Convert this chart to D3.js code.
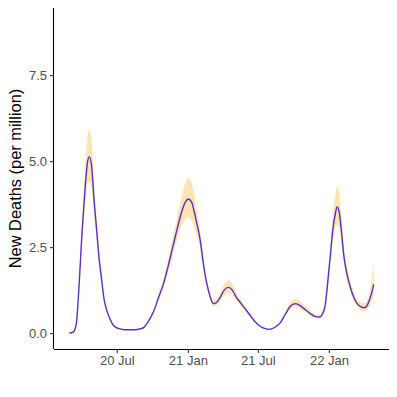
<!DOCTYPE html>
<html>
<head>
<meta charset="utf-8">
<script src="https://cdn.jsdelivr.net/npm/d3@7"></script>
<style>
  body { margin: 0; background: #fff; }
  text { font-family: "Liberation Sans", Arial, sans-serif; }
</style>
</head>
<body>
<div id="chart"></div>
<script>
// values
var dates = ["2020-02-29","2020-03-10","2020-03-18","2020-03-25","2020-04-02","2020-04-10","2020-04-16","2020-04-21","2020-04-27","2020-05-03",
  "2020-05-10","2020-05-16","2020-05-23","2020-05-29","2020-06-05","2020-06-14","2020-06-22","2020-07-07","2020-07-22","2020-08-17",
  "2020-09-07","2020-09-20","2020-10-04","2020-10-16","2020-10-30","2020-11-11","2020-11-25","2020-12-07","2020-12-16","2020-12-25",
  "2021-01-02","2021-01-11","2021-01-17","2021-01-24","2021-02-02","2021-02-10","2021-02-17","2021-02-23","2021-03-02","2021-03-08",
  "2021-03-15","2021-03-26","2021-04-05","2021-04-16","2021-04-26","2021-05-06","2021-05-16","2021-05-25","2021-06-11","2021-06-24",
  "2021-07-07","2021-07-20","2021-07-29","2021-08-07","2021-08-18","2021-08-28","2021-09-10","2021-09-23","2021-10-06","2021-10-19",
  "2021-11-01","2021-11-14","2021-11-27","2021-12-08","2021-12-15","2021-12-23","2021-12-29","2022-01-05","2022-01-11","2022-01-18",
  "2022-01-22","2022-01-27","2022-02-02","2022-02-08","2022-02-16","2022-02-25","2022-03-08","2022-03-18","2022-04-03","2022-04-13",
  "2022-04-21","2022-04-27"];

var deaths = [0.00,0.03,0.25,1.30,2.90,4.20,4.95,5.13,4.85,3.90,
  3.00,2.20,1.54,1.00,0.67,0.40,0.23,0.13,0.10,0.10,
  0.15,0.33,0.62,1.00,1.44,1.95,2.60,3.15,3.53,3.80,
  3.90,3.80,3.55,3.20,2.70,2.03,1.55,1.25,0.98,0.86,
  0.88,1.05,1.25,1.33,1.25,1.05,0.90,0.77,0.52,0.33,
  0.20,0.13,0.11,0.13,0.20,0.30,0.55,0.78,0.86,0.80,
  0.68,0.57,0.48,0.47,0.55,0.86,1.50,2.30,3.00,3.50,
  3.67,3.55,3.00,2.30,1.75,1.35,1.00,0.82,0.74,0.88,
  1.15,1.42];

var lower = [0.00,0.03,0.23,1.20,2.65,3.75,4.30,4.40,4.20,3.45,
  2.70,2.00,1.42,0.93,0.63,0.38,0.22,0.12,0.09,0.09,
  0.14,0.31,0.57,0.92,1.32,1.78,2.35,2.82,3.12,3.30,
  3.36,3.28,3.10,2.85,2.42,1.85,1.42,1.15,0.90,0.78,
  0.80,0.95,1.12,1.18,1.12,0.95,0.82,0.70,0.48,0.31,
  0.19,0.12,0.10,0.12,0.18,0.27,0.49,0.69,0.75,0.70,
  0.60,0.51,0.43,0.42,0.50,0.78,1.35,2.05,2.65,3.05,
  3.15,3.08,2.65,2.05,1.57,1.20,0.89,0.72,0.64,0.74,
  0.92,1.12];

var upper = [0.00,0.04,0.28,1.42,3.20,4.70,5.65,5.93,5.55,4.45,
  3.40,2.48,1.70,1.09,0.72,0.43,0.25,0.14,0.11,0.11,
  0.16,0.36,0.68,1.10,1.58,2.14,2.88,3.52,3.98,4.34,
  4.50,4.36,4.05,3.60,3.00,2.24,1.70,1.37,1.08,0.95,
  0.98,1.18,1.42,1.54,1.42,1.17,0.99,0.85,0.57,0.36,
  0.22,0.14,0.12,0.14,0.22,0.34,0.62,0.90,1.00,0.93,
  0.78,0.65,0.55,0.54,0.62,0.96,1.68,2.60,3.42,4.05,
  4.27,4.12,3.45,2.62,1.98,1.52,1.14,0.94,0.87,1.08,
  1.50,2.03];

var xTicks = ["2020-07-01","2021-01-01","2021-07-01","2022-01-01"];
var yTicks = [0, 2.5, 5, 7.5];

var svgWidth = 397;
var svgHeight = 397;

var margin = {top: 8, right: 8, bottom: 48, left: 54};
var width = svgWidth - margin.left - margin.right;
var height = svgHeight - margin.top - margin.bottom;

var parse = d3.timeParse("%Y-%m-%d");
var data = dates.map((d, i) => ({date: parse(d), v: deaths[i], lo: lower[i], hi: upper[i]}));

var svg = d3.select("#chart")
    .append("svg")
    .attr("width", svgWidth)
    .attr("height", svgHeight);

var chartGroup = svg.append("g")
    .attr("transform", `translate(${margin.left}, ${margin.top})`);

// ggplot style 5% expansion on both sides
var xExt = d3.extent(data, d => d.date);
var xPad = (xExt[1] - xExt[0]) * 0.05;
var xScale = d3.scaleTime()
    .domain([new Date(+xExt[0] - xPad), new Date(+xExt[1] + xPad)])
    .range([0, width]);

// panel runs from about -0.46 to 9.45 in the reference
var yScale = d3.scaleLinear()
    .domain([-0.46, 9.45])
    .range([height, 0]);

chartGroup.append("path")
    .datum(data)
    .attr("fill", "#FFE4B2")
    .attr("d", d3.area()
        .curve(d3.curveMonotoneX)
        .x(d => xScale(d.date))
        .y0(d => yScale(d.lo))
        .y1(d => yScale(d.hi)));

chartGroup.append("path")
    .datum(data)
    .attr("fill", "none")
    .attr("stroke", "#5631CC")
    .attr("stroke-width", 1.4)
    .attr("d", d3.line()
        .curve(d3.curveMonotoneX)
        .x(d => xScale(d.date))
        .y(d => yScale(d.v)));

var bottomAxis = d3.axisBottom(xScale)
    .tickValues(xTicks.map(parse))
    .tickFormat(d3.timeFormat("%y %b"))
    .tickSize(4)
    .tickPadding(3);

var leftAxis = d3.axisLeft(yScale)
    .tickValues(yTicks)
    .tickFormat(d3.format(".1f"))
    .tickSize(4)
    .tickPadding(3);

var xAxisG = chartGroup.append("g")
    .attr("transform", `translate(0,${height})`)
    .call(bottomAxis);

var yAxisG = chartGroup.append("g")
    .call(leftAxis);

[xAxisG, yAxisG].forEach(g => {
    g.select(".domain").attr("stroke", "#000").attr("stroke-width", 1.1);
    g.selectAll(".tick line").attr("stroke", "#333").attr("stroke-width", 1.1);
    g.selectAll(".tick text")
        .attr("fill", "#4D4D4D")
        .attr("font-size", "13px")
        .attr("font-family", "Liberation Sans, Arial, sans-serif");
});
// remove the end ticks of the domain path
xAxisG.select(".domain").attr("d", `M0,0.5H${width}`);
yAxisG.select(".domain").attr("d", `M-0.5,0V${height}`);

chartGroup.append("text")
    .attr("transform", "rotate(-90)")
    .attr("x", -(height / 2))
    .attr("y", 15 - margin.left)
    .attr("dy", "0.35em")
    .attr("text-anchor", "middle")
    .attr("font-size", "16.4px")
    .attr("fill", "#000")
    .text("New Deaths (per million)");
</script>
</body>
</html>
